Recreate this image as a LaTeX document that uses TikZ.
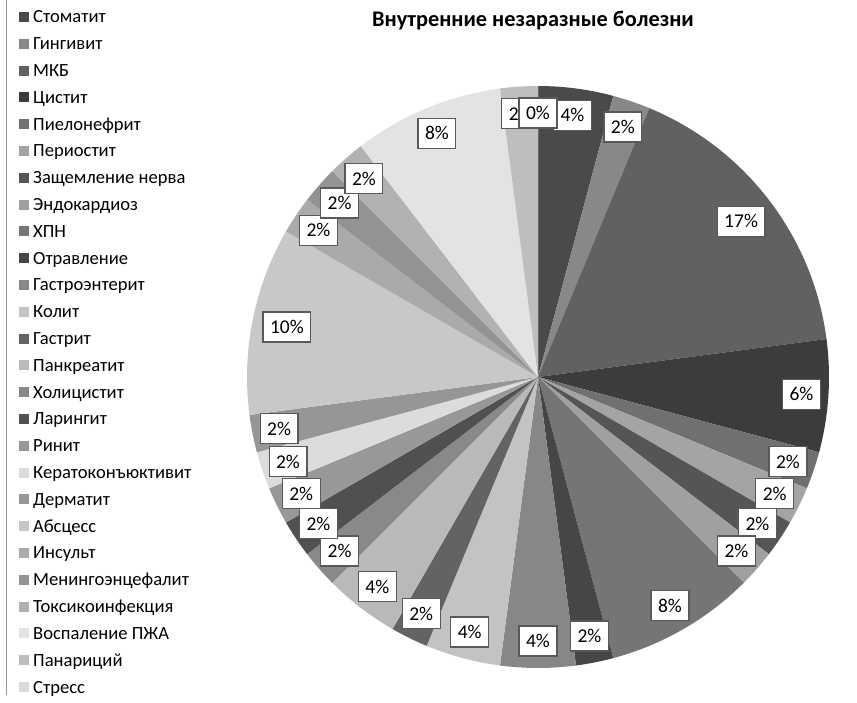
\documentclass[tikz,border=0pt]{standalone}
\usepackage{fontspec}
\setmainfont{Carlito}
\usetikzlibrary{positioning}

% number/name/start/end (in 1/48)/percent/gray/label radius
\def\slicelist{1/Стоматит/0/2/4/74/264, 2/Гингивит/2/3/2/136/264, 3/МКБ/3/11/17/97/256,
  4/Цистит/11/14/6/60/264, 5/Пиелонефрит/14/15/2/112/264, 6/Периостит/15/16/2/164/264,
  7/Защемление нерва/16/17/2/85/264, 8/Эндокардиоз/17/18/2/160/264, 9/ХПН/18/22/8/117/264,
  10/Отравление/22/23/2/70/264, 11/Гастроэнтерит/23/25/4/135/264, 12/Колит/25/27/4/195/264,
  13/Гастрит/27/28/2/99/264, 14/Панкреатит/28/30/4/185/264, 15/Холицистит/30/31/2/137/264,
  16/Ларингит/31/32/2/80/264, 17/Ринит/32/33/2/152/264, 18/Кератоконъюктивит/33/34/2/220/264,
  19/Дерматит/34/35/2/150/264, 20/Абсцесс/35/40/10/200/256, 21/Инсульт/40/41/2/170/264,
  22/Менингоэнцефалит/41/42/2/147/264, 23/Токсикоинфекция/42/43/2/178/264,
  24/Воспаление ПЖА/43/47/8/227/264, 25/Панариций/47/48/2/190/264, 26/Стресс/48/48/0/218/264}

\begin{document}
\begin{tikzpicture}[x=1pt, y=1pt,
    pctbox/.style={draw=black!65, line width=1.2pt, fill=white, inner xsep=7pt,
      minimum height=30pt, font=\fontsize{19.5}{19.5}\selectfont},
    legendkey/.style={minimum size=10pt, inner sep=0pt},
    legendtext/.style={inner sep=0pt, anchor=base west, font=\fontsize{18.6}{18.6}\selectfont}]
  \useasboundingbox (0,0) rectangle (857,702);
  \coordinate (c) at (538,325);

  \node[font=\bfseries\fontsize{22.3}{22.3}\selectfont] (title) at (533,681) {Внутренние незаразные болезни};

  \foreach \i/\lbl/\ua/\ub/\pct/\gv/\rl in \slicelist
    \fill[fill={rgb,255:red,\gv;green,\gv;blue,\gv}] (c) -- ++(90-7.5*\ua:291)
      arc[start angle=90-7.5*\ua, end angle=90-7.5*\ub, radius=291] -- cycle;

  \foreach \i/\lbl/\ua/\ub/\pct/\gv/\rl in \slicelist
    \node[pctbox] (p\i) at ([shift={(90-3.75*\ua-3.75*\ub:\rl)}]c) {\pct\%};

  % legend
  \draw[black!40, line width=1.5pt] (6.5,702) -- (6.5,7);
  \foreach \i/\lbl/\ua/\ub/\pct/\gv/\rl in \slicelist {
    \node[legendkey, fill={rgb,255:red,\gv;green,\gv;blue,\gv}] (k\i) at (23.5,685-26.8*\i+26.8) {};
    \node[legendtext] (l\i) at (33,679-26.8*\i+26.8) {\lbl};
  }
\end{tikzpicture}
\end{document}
